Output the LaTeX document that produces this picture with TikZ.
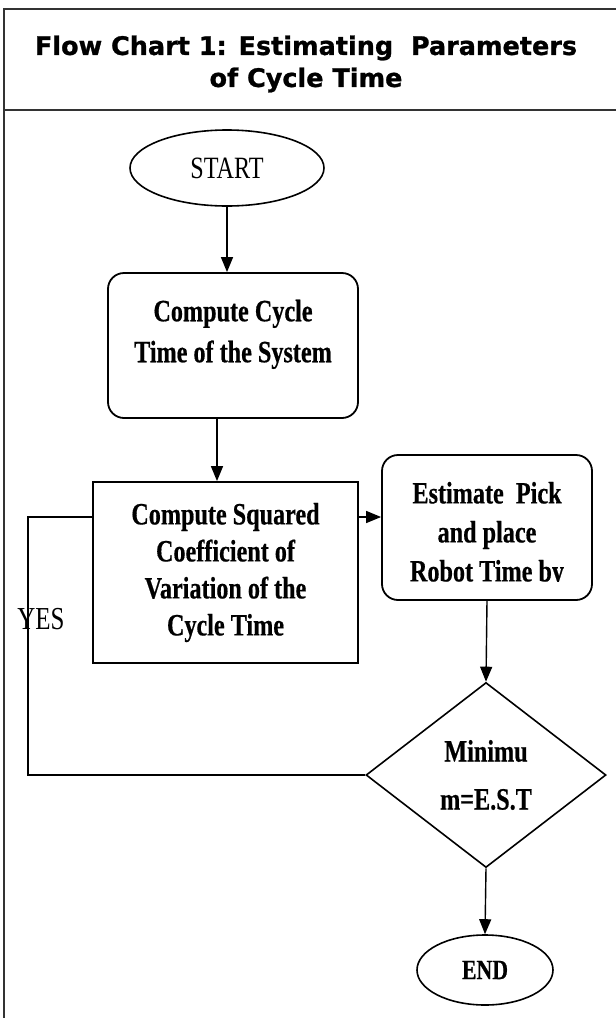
\documentclass[tikz,border=0pt]{standalone}
\usepackage{fontspec}
\setmainfont{Liberation Serif}[FakeStretch=0.78,BoldFeatures={FakeBold=0.5}]
\newfontfamily\headfont{DejaVu Sans}[BoldFeatures={FakeBold=1}]
\usepackage{tikz}
\usetikzlibrary{shapes.geometric,arrows.meta}

\begin{document}
\begin{tikzpicture}[x=1pt,y=-1pt,
   frame/.style={line width=1.2pt,draw=black!80},
   boxfont/.style={font=\fontsize{31}{#1}\selectfont\bfseries},
   boxtext/.style={align=center,inner sep=0pt,boxfont=39},
   terminal/.style={ellipse,draw,line width=1.6pt,inner sep=0pt},
   stepbox/.style={rectangle,draw,line width=1.8pt,inner sep=0pt,boxtext},
   roundbox/.style={stepbox,rounded corners=16pt},
   decision/.style={diamond,draw,line width=1.6pt,inner sep=0pt,boxtext},
   flow/.style={line width=1.4pt,-{Triangle[length=15pt,width=12pt]}},
   link/.style={line width=1.4pt}
]
   \useasboundingbox (0,0) rectangle (616,1018);

   % frame and heading
   \draw[frame] (616,9) -- (4,9) -- (4,1018);
   \draw[frame] (4,110) -- (616,110);
   \node[align=center,font=\headfont\bfseries\fontsize{25.5}{32}\selectfont]
      (title) at (306,64) {Flow Chart 1: Estimating~~Parameters\\of Cycle Time};

   \node[terminal,minimum width=194pt,minimum height=76pt,
      font=\fontsize{31}{38}\selectfont] (start) at (227,168) {START};
   \node[roundbox,boxfont=41,minimum width=250pt,minimum height=145pt,text depth=29pt]
      (cycle) at (233,345.5) {Compute Cycle\\Time of the System};
   \node[stepbox,boxfont=37,minimum width=265pt,minimum height=181pt]
      (sqcv) at (225.5,572.5) {Compute Squared\\Coefficient of\\Variation of the\\Cycle Time};
   \node[roundbox,minimum width=210pt,minimum height=145pt] (pick) at (487,527.5) {};
   \begin{scope}
      \clip (pick.north west) rectangle (592,581);
      \node[boxtext] (picktext) at (487,535) {Estimate~~Pick\\and place\\Robot Time by};
   \end{scope}
   \node[decision,boxfont=48,minimum width=240pt,minimum height=185pt]
      (minimum) at (486,775) {Minimu\\m=E.S.T};
   \node[terminal,minimum width=136pt,minimum height=70pt,
      font=\fontsize{28}{32}\selectfont\bfseries] (stop) at (485,970) {END};
   \node[inner sep=0pt,font=\fontsize{32}{38}\selectfont] (yes) at (41,619) {YES};
   \coordinate (turn) at (28,517);

   \draw[flow] (start.south) -- (start.south |- cycle.north);
   \draw[flow] ([xshift=-16pt]cycle.south) -- ([xshift=-16pt]cycle.south |- sqcv.north);
   \draw[flow] (sqcv.east |- turn) -- (pick.west |- turn);
   \draw[flow] (pick.south) -- (minimum.north);
   \draw[flow] (minimum.south) -- (stop.north);
   \draw[link] (minimum.west) -| (turn) -- (turn -| sqcv.west);
\end{tikzpicture}
\end{document}
